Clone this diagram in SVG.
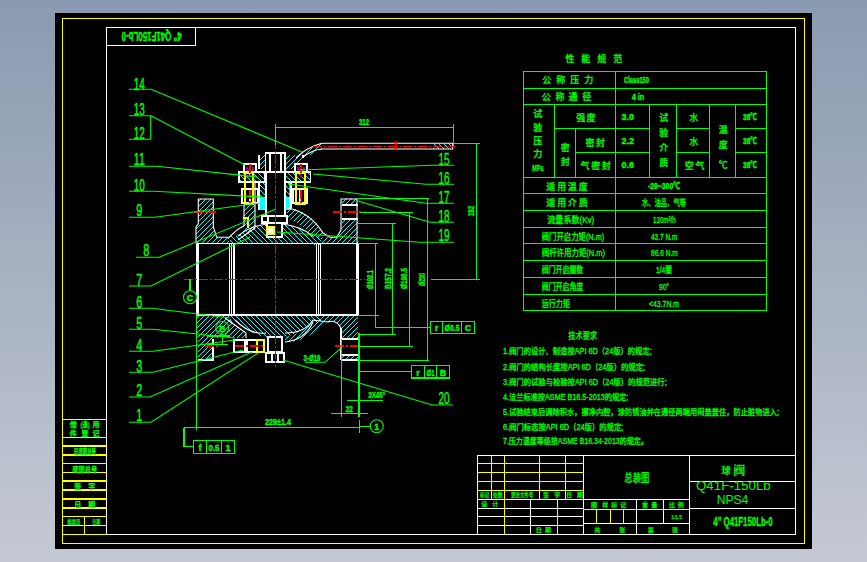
<svg xmlns="http://www.w3.org/2000/svg" width="867" height="562" viewBox="0 0 867 562">
<style>
.w{fill:none;stroke:#fff;stroke-width:1.1;shape-rendering:crispEdges}
.ws{fill:none;stroke:#fff;stroke-width:1.1}
.y{fill:none;stroke:#ff0;stroke-width:1.1;shape-rendering:crispEdges}
.g{fill:none;stroke:#0f0;stroke-width:1.1}
.gc{fill:none;stroke:#0f0;stroke-width:1.1;shape-rendering:crispEdges}
.r{fill:none;stroke:#f00;stroke-width:1.1;stroke-dasharray:9 2 2 2;shape-rendering:crispEdges}
.m{fill:none;stroke:#f0f;stroke-width:1.2}
.t{fill:#0f0;stroke:#0f0;stroke-width:.35;font-family:"Liberation Sans","Noto Sans CJK SC",sans-serif;font-size:9px}
.c{text-anchor:middle}
.n{font-size:16px;stroke-width:.4}
.s{font-size:9px;font-weight:bold}
.u{font-size:8.5px}
.v{font-size:7px}
.x{font-size:6px;stroke-width:.25}
.th{fill:#0f0;font-family:"Liberation Sans",sans-serif;font-size:12px}
.ha{fill:url(#ha);stroke:none}
.hb{fill:url(#hb);stroke:none}
.k{fill:#0ff}
</style>
<defs>
<linearGradient id="bg" x1="0" y1="0" x2="0" y2="1"><stop offset="0" stop-color="#8a9ab0"/><stop offset="1" stop-color="#c5c9d3"/></linearGradient>
<pattern id="ha" width="5" height="5" patternUnits="userSpaceOnUse"><path d="M-1,6 L6,-1" stroke="#0ff" stroke-width="1" fill="none"/></pattern>
<pattern id="hb" width="5" height="5" patternUnits="userSpaceOnUse"><path d="M-1,-1 L6,6" stroke="#0ff" stroke-width="1" fill="none"/></pattern>
</defs>
<rect width="867" height="562" fill="url(#bg)"/>
<rect x="55" y="13" width="757" height="536" fill="#000"/>
<g id="frame">
<rect class="y" x="62.5" y="18.5" width="742" height="525"/>
<rect class="w" x="106.5" y="27.5" width="689" height="507"/>
<rect class="w" x="106.5" y="27.5" width="89" height="18"/>
<path class="y" d="M62.5,419.3H106.5M62.5,437.3H106.5M62.5,446H106.5M62.5,455H106.5M62.5,463.3H106.5M62.5,472.3H106.5M62.5,481H106.5M62.5,490H106.5M62.5,499H106.5M62.5,508H106.5M62.5,516.5H106.5M62.5,525.5H106.5M62.5,534.3H106.5M84.3,516.5V534.3"/>
</g>
<text class="t c" transform="rotate(180 151.7 36)" x="151.7" y="40" textLength="60" lengthAdjust="spacingAndGlyphs" style="font-size:12px;font-weight:bold">4" Q41F150Lb-0</text>
<g id="side-labels">
<text class="t v c" x="73.3" y="427">借</text><text class="t v c" x="85" y="427" textLength="9" lengthAdjust="spacingAndGlyphs">(通)</text><text class="t v c" x="96" y="427">用</text>
<text class="t v c" x="73.3" y="435.5">件</text><text class="t v c" x="85" y="435.5">登</text><text class="t v c" x="96" y="435.5">记</text>
<text class="t v" x="74" y="453.5" textLength="22" lengthAdjust="spacingAndGlyphs">旧底图总号</text>
<text class="t v" x="72.3" y="471.5" textLength="25" lengthAdjust="spacingAndGlyphs">底图总号</text>
<text class="t v c" x="77.7" y="489">签</text><text class="t v c" x="91.7" y="489">字</text>
<text class="t v c" x="77.7" y="507">日</text><text class="t v c" x="91.7" y="507">期</text>
<text class="t x" x="67.3" y="524" textLength="13" lengthAdjust="spacingAndGlyphs">档案员</text>
<text class="t x" x="92.3" y="524" textLength="8" lengthAdjust="spacingAndGlyphs">日期</text>
</g>
<g id="valve">
<path class="ha" d="M198.3,199H213.3V226.7L216.7,237.3H228L230,243.3H196V226.7L198.3,224Z"/>
<path class="ha" d="M244,205H255V228L247,236H238L244,226Z"/>
<path class="hb" d="M238,243.3V236Q255,226 267,224V237H282V224Q300,226 313,236V243.3Z"/>
<path class="ha" d="M287,208H291Q310,212 323,232L322,237.3H313Q305,226 287,218Z"/>
<path class="ha" d="M342,198.3H357V205H342ZM342,219H358.3V243.3H321V237.3H336.7L341,230Z"/>
<path class="ha" d="M259,155H265V169H259ZM285,155H303V161L292,169H285Z"/>
<path class="ha" d="M296,157L303,152L322,143V149L304,158Z"/>
<path class="hb" d="M239,172H265V182H239ZM285,172H310.7V182H285ZM259,182H265V197H259ZM286,182H291V197H286Z"/>
<path class="hb" d="M433,143.5H453V149H433Z"/>
<rect class="k" x="259" y="197" width="6" height="13"/><rect class="k" x="286" y="197" width="5" height="13"/>
<rect class="hb" x="230" y="236" width="8" height="9"/><rect class="hb" x="313" y="236" width="8" height="9"/><rect class="hb" x="230" y="315" width="7" height="7"/><rect class="hb" x="313" y="315" width="8" height="7"/>
<path class="ha" d="M197,315H231V322L246,333V338H213V360H198V335H197Z"/>
<path class="hb" d="M237,315H313V320Q300,335 285,337H266Q250,335 237,320Z"/>
<path class="ha" d="M321,315H358V339H341V328Q336,319 328,322Q322,326 313,333Q300,343 285,342V337Q300,335 313,322Z"/>
<path class="ha" d="M342,355H358V360H342Z"/>
<path class="w" d="M197,243.3H358.3M197,315H358.3M197,243V315M198.5,243V315M358.3,243V315M357,243V315M229.3,243V315M231.7,243V315M234,243V315M316.7,243V315M318.3,243V315M320.7,243V315"/>
<path class="ws" d="M228,238.5Q238,228 244,226M287,208Q310,212 323,233L330,237.3H336.7L341,230V199H357V243M198.3,199H213.3V226.7L216.7,237.3H228M198.3,199V224L196,226.7V243M244,205V226M255,182V228L238,240M290,182V208M267,224Q250,226 238,236M282,224Q300,226 313,236"/>
<path class="w" d="M342,205H357.7M342,219H357.7M342,339H358M342,355H358M198,360H213V339M342,360H358M341,328V360"/>
<path class="ws" d="M235,320Q250,335 266,333M285,333Q305,333 313,320L328,322Q336,319 341,328M246,333V338M313,322Q305,340 285,342M225,318L246,333"/>
<path class="w" d="M265.3,153H285V172H265.3ZM270,153V172M281,153V172M266,172H285V216H266ZM262,216H287V223H262ZM267,223H282V237H267Z"/>
<path class="w" d="M259,155V169M303,155V158M239,172H265V182H239ZM285,172H310.7V182H285ZM259,182V210M291,182V208"/>
<path class="ws" d="M296,158L303,152Q312,146 322,143.3H452.7V149H322Q312,150 303,157"/>
<path class="w" d="M244,164H256V172H244ZM295,164H307V172H295ZM242,189H258V203H242ZM293,189H307V203H293ZM250,189V203M300,189V203"/>
<path class="y" d="M245,173H253V204H245ZM296,173H305V204H296ZM243,218H248V228"/>
<path class="m" d="M247,167V170H253V167M298,167V170H304V167"/>
<path class="w" d="M262,216H268V222H262ZM234,340H245V352H234ZM247,340H257V352H247ZM257,340H264V352H257ZM268,337H282V352H268ZM266,353H284V362H266ZM272,353V362M278,353V362"/>
<rect class="y" x="257" y="340" width="7" height="12"/>
<rect x="268" y="228" width="5" height="5" fill="#fff"/><rect class="y" x="267" y="227" width="7" height="7"/>
<path class="r" d="M275.3,125V367M184,279.3H365M313,146.3H455.7M194,212H216M333,212H362M205,346H218M335,346H360M235,346H264M250,164V178M301,164V178M250,190V205M301,190V205"/>
<path d="M395,141V150M396.5,141V150" stroke="#f00" stroke-width="1" fill="none"/>
</g>
<g id="connectors">
<path class="g" d="M129,89.3H151L302,152M129,115.7H151L245,165M129,139.3H150.7V115.7M129,166.3H157L257,177M129,191.3H154L263,197M129,217.3H155L260,203M136,257.3H159L276,209M129,286H151L250,237M129,308.3H152L230,318M129,329.3H153L235,338M129,351.3H153L235,340M129,372.3H153L243,350M129,397H150L252,352M129,422.3H151L258,353"/>
<path class="g" d="M454,165.3H432L300,170M454,184.3H426L313,174M454,203.3H426L288,184M454,222.3H430L358,201M454,242.3H420L277,232M453,405H432L283,360"/>
<path class="gc" d="M275.5,127.3H453.3M453.3,124V146M275.5,124V145M453,143.3H480M476.7,143.3V279.3M431,279.3H480"/>
<path class="gc" d="M358,243.3H378M358,315.3H379M375.7,243.3V327.3H430.7M358,223.3H396M358,334.3H396M392.7,223.3V334.3M360,212.3H413M360,346.3H412.7M409.3,212.3V346.3M358,198.3H429M358,360.3H429.3M427.3,198.3V360.3"/>
<path class="gc" d="M358,371.3H411.7M359.3,333V417M358.3,333V417M359.3,420V432.7M360,426.3H370M184,427.7H359.3M196.5,315V430M184,427.7V446.7H193.3M190,279.3V291M222.3,335V345M207,344.3H227.7M207,336H230"/>
<path class="gc" d="M347.3,400.3H382.7M331.3,413.3H367.7M341.3,339V416.7"/>
<path class="g" d="M305,362.3H325L341.7,347.3"/>
<rect class="gc" x="430.7" y="321.3" width="44" height="12"/><path class="gc" d="M442.3,321.3V333.3M461.7,321.3V333.3"/>
<rect class="gc" x="411.7" y="365.3" width="37.6" height="12.7"/><path class="gc" d="M424.3,365.3V378M436.7,365.3V378"/>
<rect class="gc" x="193.3" y="440.3" width="41.4" height="13"/><path class="gc" d="M206.3,440.3V453.3M221.7,440.3V453.3"/>
<circle class="g" cx="190" cy="297.3" r="6.5"/><circle class="g" cx="222.3" cy="328" r="6.5"/><circle class="g" cx="376.7" cy="426.3" r="6.5"/>
</g>
<g id="part-numbers">
<text class="t n c" x="139.3" y="90" textLength="11" lengthAdjust="spacingAndGlyphs">14</text>
<text class="t n c" x="139.3" y="115" textLength="11" lengthAdjust="spacingAndGlyphs">13</text>
<text class="t n c" x="139.3" y="139" textLength="11" lengthAdjust="spacingAndGlyphs">12</text>
<text class="t n c" x="139.3" y="165" textLength="11" lengthAdjust="spacingAndGlyphs">11</text>
<text class="t n c" x="139.3" y="191" textLength="11" lengthAdjust="spacingAndGlyphs">10</text>
<text class="t n c" x="139.3" y="216" textLength="6" lengthAdjust="spacingAndGlyphs">9</text>
<text class="t n c" x="146.3" y="256" textLength="6" lengthAdjust="spacingAndGlyphs">8</text>
<text class="t n c" x="139.3" y="286" textLength="6" lengthAdjust="spacingAndGlyphs">7</text>
<text class="t n c" x="139.3" y="308" textLength="6" lengthAdjust="spacingAndGlyphs">6</text>
<text class="t n c" x="139.3" y="329" textLength="6" lengthAdjust="spacingAndGlyphs">5</text>
<text class="t n c" x="139.3" y="351" textLength="6" lengthAdjust="spacingAndGlyphs">4</text>
<text class="t n c" x="139.3" y="372" textLength="6" lengthAdjust="spacingAndGlyphs">3</text>
<text class="t n c" x="139.3" y="396" textLength="6" lengthAdjust="spacingAndGlyphs">2</text>
<text class="t n c" x="139.3" y="421" textLength="6" lengthAdjust="spacingAndGlyphs">1</text>
<text class="t n c" x="444" y="165" textLength="11" lengthAdjust="spacingAndGlyphs">15</text>
<text class="t n c" x="444" y="184" textLength="11" lengthAdjust="spacingAndGlyphs">16</text>
<text class="t n c" x="444" y="203" textLength="11" lengthAdjust="spacingAndGlyphs">17</text>
<text class="t n c" x="444" y="222" textLength="11" lengthAdjust="spacingAndGlyphs">18</text>
<text class="t n c" x="444" y="241" textLength="11" lengthAdjust="spacingAndGlyphs">19</text>
<text class="t n c" x="444" y="404" textLength="11" lengthAdjust="spacingAndGlyphs">20</text>
</g>
<g id="dimensions">
<text class="t s c" x="364" y="125" textLength="10" lengthAdjust="spacingAndGlyphs">312</text>
<text class="t s c" transform="rotate(-90 474 211)" x="474" y="211" textLength="10" lengthAdjust="spacingAndGlyphs">192</text>
<text class="t s c" transform="rotate(-90 373 279.5)" x="373" y="279.5" textLength="19" lengthAdjust="spacingAndGlyphs">Ø102.1</text>
<text class="t s c" transform="rotate(-90 391 278.5)" x="391" y="278.5" textLength="21" lengthAdjust="spacingAndGlyphs">B157.2</text>
<text class="t s c" transform="rotate(-90 407 278.5)" x="407" y="278.5" textLength="21" lengthAdjust="spacingAndGlyphs">Ø190.5</text>
<text class="t s c" transform="rotate(-90 425 279.5)" x="425" y="279.5" textLength="13" lengthAdjust="spacingAndGlyphs">Ø230</text>
<text class="t s c" x="278" y="425" textLength="26" lengthAdjust="spacingAndGlyphs">229±1.4</text>
<text class="t s c" x="312" y="360.5" textLength="17" lengthAdjust="spacingAndGlyphs">3-Ø19</text>
<text class="t s c" x="376.7" y="398" textLength="17" lengthAdjust="spacingAndGlyphs">3X45°</text>
<text class="t s c" x="349.3" y="412" textLength="7" lengthAdjust="spacingAndGlyphs">22</text>
<text class="t s c" x="190" y="301">C</text><text class="t s c" x="222.3" y="332">B</text><text class="t s c" x="376.7" y="430">1</text>
<text class="t s c" x="436.5" y="331">r</text><text class="t s c" x="452" y="331" textLength="15" lengthAdjust="spacingAndGlyphs">Ø0.5</text><text class="t s c" x="468" y="331">C</text>
<text class="t s c" x="418" y="375.5">r</text><text class="t s c" x="430.5" y="375.5" textLength="8" lengthAdjust="spacingAndGlyphs">Ø1</text><text class="t s c" x="443" y="375.5">B</text>
<text class="t s c" x="200" y="450.5">f</text><text class="t s c" x="214" y="450.5" textLength="11" lengthAdjust="spacingAndGlyphs">0.5</text><text class="t s c" x="228" y="450.5">1</text>
</g>
<g id="performance-table">
<path class="gc" d="M523.5,71.3H766.3V310.3H523.5ZM615.3,71.3V310.3M523.5,88.3H766.3M523.5,104.3H766.3M523.5,177.3H766.3M523.5,193.3H766.3M523.5,210.3H766.3M523.5,227.3H766.3M523.5,243.3H766.3M523.5,260.3H766.3M523.5,277.3H766.3M523.5,294.3H766.3M554.3,104.3V177.3M575.3,128.3V177.3M649.3,104.3V177.3M676.3,104.3V177.3M709.7,104.3V177.3M735.3,104.3V177.3M554.3,128.3H649.3M575.3,152.3H649.3M676.3,128.3H709.7M676.3,152.3H709.7M735.3,128.3H766.3M735.3,152.3H766.3"/>
<text class="t c" x="570" y="62">性</text><text class="t c" x="585.7" y="62">能</text><text class="t c" x="601.7" y="62">规</text><text class="t c" x="617.7" y="62">范</text>
<text class="t c" x="546.7" y="83">公</text><text class="t c" x="560.7" y="83">称</text><text class="t c" x="574.7" y="83">压</text><text class="t c" x="588.7" y="83">力</text>
<text class="t s" x="624" y="83" textLength="25" lengthAdjust="spacingAndGlyphs">Class150</text>
<text class="t c" x="546.3" y="99.5">公</text><text class="t c" x="560" y="99.5">称</text><text class="t c" x="573" y="99.5">通</text><text class="t c" x="586.7" y="99.5">径</text>
<text class="t s" x="631.7" y="99.5" textLength="12.6" lengthAdjust="spacingAndGlyphs">4 in</text>
<text class="t c" x="537.7" y="117">试</text><text class="t c" x="537.7" y="130.5">验</text><text class="t c" x="537.7" y="144">压</text><text class="t c" x="537.7" y="157">力</text><text class="t s c" x="537.7" y="171" textLength="11" lengthAdjust="spacingAndGlyphs">MPa</text>
<text class="t c" x="580.7" y="121">强</text><text class="t c" x="591" y="121">度</text>
<text class="t c" x="565.3" y="150.5">密</text><text class="t c" x="565.3" y="165">封</text>
<text class="t c" x="590" y="146">密</text><text class="t c" x="600.3" y="146">封</text>
<text class="t c" x="585" y="169">气</text><text class="t c" x="595.7" y="169">密</text><text class="t c" x="606.3" y="169">封</text>
<text class="t s c" x="627.7" y="120">3.0</text><text class="t s c" x="627.7" y="144">2.2</text><text class="t s c" x="627.7" y="168">0.6</text>
<text class="t c" x="663.7" y="120.5">试</text><text class="t c" x="663.7" y="135.5">验</text><text class="t c" x="663.7" y="150.5">介</text><text class="t c" x="663.7" y="165.5">质</text>
<text class="t c" x="693.7" y="120.5">水</text><text class="t c" x="693.7" y="145">水</text><text class="t c" x="689.3" y="169">空</text><text class="t c" x="700" y="169">气</text>
<text class="t c" x="723.3" y="133">温</text><text class="t c" x="723.3" y="148">度</text><text class="t c" x="723.3" y="168">℃</text>
<text class="t s c" x="750" y="120" textLength="14" lengthAdjust="spacingAndGlyphs">38℃</text><text class="t s c" x="750" y="144" textLength="14" lengthAdjust="spacingAndGlyphs">38℃</text><text class="t s c" x="750" y="168" textLength="14" lengthAdjust="spacingAndGlyphs">38℃</text>
<text class="t c" x="550.7" y="189.5">适</text><text class="t c" x="561.7" y="189.5">用</text><text class="t c" x="572.3" y="189.5">温</text><text class="t c" x="583.3" y="189.5">度</text>
<text class="t s c" x="664" y="189" textLength="32" lengthAdjust="spacingAndGlyphs">-29~300℃</text>
<text class="t c" x="550.7" y="206">适</text><text class="t c" x="561.7" y="206">用</text><text class="t c" x="572.3" y="206">介</text><text class="t c" x="583.3" y="206">质</text>
<text class="t c" x="664" y="206" textLength="44" lengthAdjust="spacingAndGlyphs">水、油品、气等</text>
<text class="t" x="547.3" y="223" textLength="47" lengthAdjust="spacingAndGlyphs">流量系数(Kv)</text>
<text class="t" x="653" y="223" textLength="22.7" lengthAdjust="spacingAndGlyphs">120m³/h</text>
<text class="t" x="541.7" y="239.5" textLength="62.6" lengthAdjust="spacingAndGlyphs">阀门开启力矩(N.m)</text>
<text class="t" x="651" y="239.5" textLength="26.3" lengthAdjust="spacingAndGlyphs">43.7 N.m</text>
<text class="t" x="541.7" y="256" textLength="63.3" lengthAdjust="spacingAndGlyphs">阀杆许用力矩(N.m)</text>
<text class="t" x="651" y="256" textLength="26.7" lengthAdjust="spacingAndGlyphs">86.6 N.m</text>
<text class="t" x="541.7" y="273" textLength="41.6" lengthAdjust="spacingAndGlyphs">阀门开启圈数</text>
<text class="t" x="656" y="273" textLength="15.7" lengthAdjust="spacingAndGlyphs">1/4圈</text>
<text class="t" x="541.7" y="290" textLength="41.6" lengthAdjust="spacingAndGlyphs">阀门开启角度</text>
<text class="t" x="659" y="290" textLength="10" lengthAdjust="spacingAndGlyphs">90°</text>
<text class="t" x="541.7" y="306.5" textLength="28.3" lengthAdjust="spacingAndGlyphs">运行力矩</text>
<text class="t" x="649" y="306.5" textLength="30" lengthAdjust="spacingAndGlyphs">&lt;43.7N.m</text>
</g>
<g id="technical-requirements">
<text class="t" x="568.3" y="339" textLength="28.7" lengthAdjust="spacingAndGlyphs">技术要求</text>
<text class="t u" x="503" y="354" textLength="148.7" lengthAdjust="spacingAndGlyphs">1.阀门的设计、制造按API 6D（24版）的规定;</text>
<text class="t u" x="503" y="369.5" textLength="142" lengthAdjust="spacingAndGlyphs">2.阀门的结构长度按API 6D（24版）的规定;</text>
<text class="t u" x="503" y="384.5" textLength="163.7" lengthAdjust="spacingAndGlyphs">3.阀门的试验与检验按API 6D（24版）的规范进行;</text>
<text class="t u" x="503" y="399.5" textLength="125.3" lengthAdjust="spacingAndGlyphs">4.法兰标准按ASME B16.5-2013的规定;</text>
<text class="t u" x="503" y="415" textLength="276" lengthAdjust="spacingAndGlyphs">5.试验结束后调除积水，擦净内腔，涂防锈油并在通径两端用闷盖盖住，防止脏物进入;</text>
<text class="t u" x="503" y="429.5" textLength="120.3" lengthAdjust="spacingAndGlyphs">6.阀门标志按API 6D（24版）的规定;</text>
<text class="t u" x="503" y="444" textLength="144.7" lengthAdjust="spacingAndGlyphs">7.压力温度等级按ASME B16.34-2013的规定。</text>
</g>
<g id="title-block">
<path class="w" d="M477.3,455.3H795.5M477.3,455.3V534.3M583.3,455.3V534.3M689.3,455.3V534.3M689.3,481.3H795.5M689.3,508.3H795.5M477.3,499.3H689.3M477.3,508.3H583.3M477.3,516.3H583.3M477.3,525.3H583.3M530.3,499.3V534.3M583.3,523.3H689.3M636.3,499.3V534.3M663.3,499.3V523.3"/>
<path class="y" d="M477.3,463.3H583.3M477.3,472.3H583.3M477.3,481.3H583.3M477.3,490.3H583.3M491.3,455.3V499.3M504.3,455.3V534.3M539.3,455.3V499.3M565.3,455.3V499.3M557.3,499.3V534.3M583.3,509.3H689.3M596.3,509.3V523.3M610.3,509.3V523.3M623.3,509.3V523.3"/>
<text class="t" x="624.3" y="481.5" textLength="25" lengthAdjust="spacingAndGlyphs" style="font-size:11px">总装图</text>
<text class="t c" x="726" y="474" >球</text><text class="t c" x="739.3" y="475" style="font-size:12px">阀</text>
<text class="th" x="696" y="489.5" textLength="74.7" lengthAdjust="spacingAndGlyphs">Q41F-150Lb</text>
<text class="th" x="716.7" y="504" textLength="31.6" lengthAdjust="spacingAndGlyphs">NPS4</text>
<text class="t" x="713.3" y="525.5" textLength="59.4" lengthAdjust="spacingAndGlyphs" style="font-size:12px;font-weight:bold">4" Q41F150Lb-0</text>
<text class="t x" x="480" y="497" textLength="9.3" lengthAdjust="spacingAndGlyphs">标记</text>
<text class="t x" x="492.7" y="497" textLength="10" lengthAdjust="spacingAndGlyphs">处数</text>
<text class="t x" x="511" y="497" textLength="22.3" lengthAdjust="spacingAndGlyphs">更改文件号</text>
<text class="t x c" x="546" y="497">签</text><text class="t x c" x="557.3" y="497">字</text>
<text class="t x c" x="569" y="497">日</text><text class="t x c" x="580" y="497">期</text>
<text class="t x c" x="484.3" y="506">设</text><text class="t x c" x="495.3" y="506">计</text>
<text class="t x c" x="538.7" y="532">日</text><text class="t x c" x="548" y="532">期</text>
<text class="t x c" x="594" y="507">图</text><text class="t x c" x="605.3" y="507">样</text><text class="t x c" x="614.3" y="507">标</text><text class="t x c" x="623.3" y="507">记</text>
<text class="t x c" x="645" y="507">重</text><text class="t x c" x="654.3" y="507">量</text>
<text class="t x c" x="672" y="507">比</text><text class="t x c" x="680.7" y="507">例</text>
<text class="t x" x="671.3" y="519" textLength="10.7" lengthAdjust="spacingAndGlyphs">1:1.5</text>
<text class="t x c" x="597.3" y="531.5">共</text><text class="t x c" x="622.3" y="531.5">张</text><text class="t x c" x="650.7" y="531.5">第</text><text class="t x c" x="675" y="531.5">张</text>
</g>
</svg>
